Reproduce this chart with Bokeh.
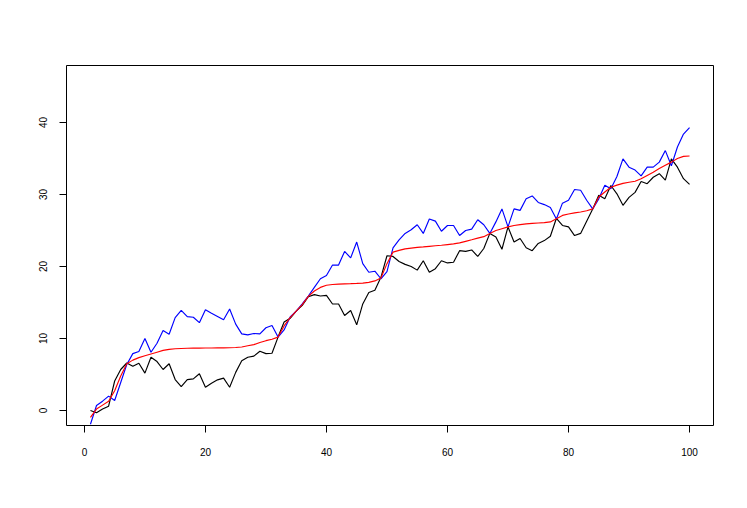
from bokeh.plotting import figure
from bokeh.models import Range1d, FixedTicker
from bokeh.embed import file_html
from bokeh.resources import INLINE

x = list(range(1, 101))

black = [0.0, -0.3, 0.2, 0.6, 4.1, 5.7, 6.6, 6.15, 6.57, 5.2,
         7.4, 6.8, 5.7, 6.5, 4.3, 3.33, 4.3, 4.4, 5.1, 3.24,
         3.8, 4.26, 4.5, 3.24, 5.3, 6.9, 7.4, 7.55, 8.24, 7.9,
         7.96, 10.2, 12.3, 12.8, 13.8, 14.6, 15.8, 16.1, 15.9, 16.0,
         14.8, 14.8, 13.2, 13.9, 11.9, 14.8, 16.4, 16.7, 18.5, 21.5,
         21.4, 20.7, 20.3, 20.0, 19.5, 20.8, 19.2, 19.7, 20.8, 20.5,
         20.6, 22.2, 22.1, 22.3, 21.4, 22.5, 24.6, 24.1, 22.4, 25.5,
         23.4, 23.9, 22.6, 22.2, 23.2, 23.6, 24.2, 26.7, 25.7, 25.5,
         24.3, 24.6, 26.3, 28.0, 29.9, 29.4, 31.25, 30.1, 28.5, 29.6,
         30.3, 31.8, 31.5, 32.4, 32.9, 32.0, 34.95, 33.8, 32.2, 31.4]

red = [-0.95, 0.2, 0.75, 1.3, 2.75, 4.8, 6.5, 7.0, 7.35, 7.6,
       7.85, 8.1, 8.35, 8.5, 8.58, 8.62, 8.65, 8.66, 8.67, 8.68,
       8.69, 8.7, 8.71, 8.72, 8.75, 8.82, 9.0, 9.15, 9.45, 9.7,
       9.9, 10.2, 11.75, 12.9, 13.8, 14.7, 15.85, 16.6, 17.1, 17.4,
       17.5, 17.55, 17.6, 17.62, 17.65, 17.7, 17.8, 18.0, 18.4, 20.4,
       22.0, 22.25, 22.45, 22.55, 22.65, 22.72, 22.8, 22.88, 22.95, 23.05,
       23.15, 23.28, 23.5, 23.72, 23.95, 24.15, 24.6, 25.0, 25.25, 25.5,
       25.7, 25.82, 25.92, 26.0, 26.05, 26.1, 26.2, 26.65, 27.1, 27.3,
       27.45, 27.58, 27.75, 28.0, 29.65, 30.35, 31.0, 31.3, 31.55, 31.7,
       31.85, 32.2, 32.65, 33.1, 33.6, 34.05, 34.5, 35.0, 35.3, 35.35]

blue = [-1.9, 0.7, 1.3, 2.0, 1.4, 3.9, 6.4, 7.9, 8.2, 10.0,
        8.1, 9.35, 11.1, 10.6, 12.9, 13.9, 13.05, 12.96, 12.2, 14.0,
        13.5, 13.05, 12.6, 14.1, 12.0, 10.65, 10.5, 10.7, 10.65, 11.5,
        11.8, 10.2, 11.2, 13.0, 13.8, 14.8, 15.9, 17.1, 18.3, 18.75,
        20.2, 20.2, 22.1, 21.2, 23.4, 20.4, 19.2, 19.35, 18.3, 19.3,
        22.6, 23.7, 24.6, 25.1, 25.8, 24.6, 26.6, 26.3, 24.9, 25.7,
        25.7, 24.3, 25.0, 25.2, 26.5, 25.8, 24.6, 26.2, 28.0, 25.5,
        28.0, 27.8, 29.4, 29.8, 28.9, 28.6, 28.2, 26.6, 28.8, 29.2,
        30.7, 30.6, 29.2, 28.0, 29.4, 31.3, 30.8, 32.5, 34.95, 33.8,
        33.4, 32.6, 33.8, 33.8, 34.5, 36.1, 34.0, 36.6, 38.4, 39.3]

x_ticks = [0, 20, 40, 60, 80, 100]
y_ticks = [0, 10, 20, 30, 40]

p = figure(width=739, height=500, output_backend="svg", toolbar_location=None,
           x_range=Range1d(-2.96, 103.96), y_range=Range1d(-2.08, 47.92),
           min_border_left=66, min_border_right=26, min_border_top=65,
           min_border_bottom=75)

p.line(x, black, line_color="#000000", line_width=1.15)
p.line(x, blue, line_color="#0000FF", line_width=1.15)
p.line(x, red, line_color="#FF0000", line_width=1.15)

p.xgrid.visible = False
p.ygrid.visible = False
p.outline_line_color = "black"
p.outline_line_width = 1
p.background_fill_color = "white"
p.border_fill_color = "white"

p.xaxis.ticker = FixedTicker(ticks=x_ticks)
p.yaxis.ticker = FixedTicker(ticks=y_ticks)
for ax in (p.xaxis[0], p.yaxis[0]):
    ax.axis_line_color = None
    ax.major_tick_in = 0
    ax.major_tick_out = 7
    ax.major_tick_line_color = "black"
    ax.minor_tick_line_color = None
    ax.major_label_text_font = "Liberation Sans"
    ax.major_label_text_font_size = "10px"
    ax.major_label_text_color = "black"
    ax.major_label_standoff = 12
p.xaxis.major_label_standoff = 15
p.yaxis.major_label_orientation = "vertical"

open("out.html", "w").write(file_html(p, INLINE))
